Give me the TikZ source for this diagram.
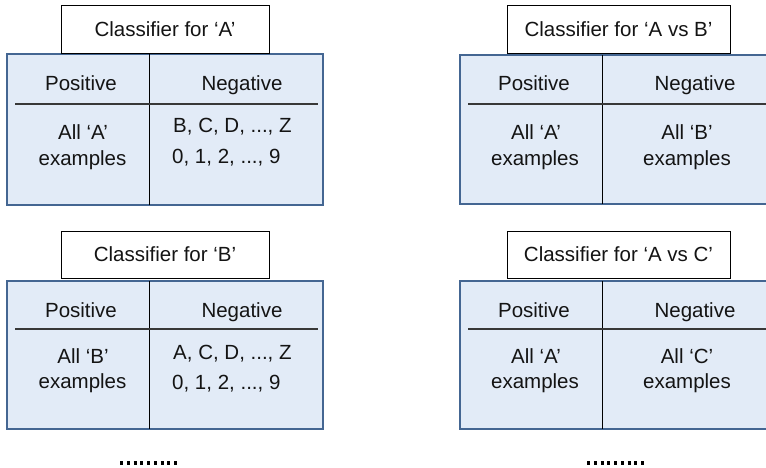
\documentclass[tikz,border=0pt]{standalone}
\usepackage{fontspec}
\setmainfont{Liberation Sans}
\definecolor{panelfill}{RGB}{226,235,247}
\definecolor{panelline}{RGB}{68,102,146}
\begin{document}
\begin{tikzpicture}[x=1pt,y=-1pt,
  every node/.style={font=\fontsize{20.5}{25}\selectfont, text=black!92, inner sep=0pt},
  titlebox/.style={draw=black, line width=0.9pt, fill=white, minimum width=208pt, minimum height=48pt},
  widetitle/.style={titlebox, minimum width=223pt},
  panel/.style={draw=panelline, line width=2pt, fill=panelfill},
  rowrule/.style={draw=black!78, line width=1.3pt},
  colrule/.style={draw=black, line width=1pt},
  txt/.style={anchor=base},
  ltxt/.style={anchor=base west},
  ellipsis/.style={line width=3.5pt, dash pattern=on 3pt off 3.75pt}]
\useasboundingbox (0,0) rectangle (766,468);
\clip (0,0) rectangle (766,468);

% ---- one-vs-rest: classifier for 'A'
\draw[panel] (7,54) rectangle (323,205);
\draw[colrule] (149,54) -- (149,205);
\draw[rowrule] (15,104) -- (318,104);
\node[titlebox] (tA) at (165,29) {Classifier for ‘A’};
\node[txt] (tApos) at (81,91) {Positive};
\node[txt] (tAneg) at (242,91) {Negative};
\node[txt] (tApos1) at (83,140) {All ‘A’};
\node[txt] (tApos2) at (82.5,165) {examples};
\node[ltxt] (tAneg1) at (173,133) {B, C, D, ..., Z};
\node[ltxt] (tAneg2) at (172,164) {0, 1, 2, ..., 9};

% ---- one-vs-rest: classifier for 'B'
\draw[panel] (7,281) rectangle (323,429);
\draw[colrule] (149,281) -- (149,429);
\draw[rowrule] (15,329) -- (318,329);
\node[titlebox, minimum height=47pt] (tB) at (165,254.5) {Classifier for ‘B’};
\node[txt] (tBpos) at (81,317) {Positive};
\node[txt] (tBneg) at (242,317) {Negative};
\node[txt] (tBpos1) at (83,363) {All ‘B’};
\node[txt] (tBpos2) at (82.5,388) {examples};
\node[ltxt] (tBneg1) at (173,359) {A, C, D, ..., Z};
\node[ltxt] (tBneg2) at (172,389) {0, 1, 2, ..., 9};

% ---- one-vs-one: classifier for 'A vs B'
\draw[panel] (460,55) rectangle (776,204);
\draw[colrule] (602,55) -- (602,204);
\draw[rowrule] (468,104) -- (776,104);
\node[widetitle] (tAB) at (618.5,29) {Classifier for ‘A vs B’};
\node[txt] (tABpos) at (534,91) {Positive};
\node[txt] (tABneg) at (695,91) {Negative};
\node[txt] (tABpos1) at (536,140) {All ‘A’};
\node[txt] (tABpos2) at (535,165) {examples};
\node[txt] (tABneg1) at (687,140) {All ‘B’};
\node[txt] (tABneg2) at (687,165) {examples};

% ---- one-vs-one: classifier for 'A vs C'
\draw[panel] (460,281) rectangle (776,429);
\draw[colrule] (602,281) -- (602,429);
\draw[rowrule] (468,329) -- (776,329);
\node[widetitle, minimum height=47pt] (tAC) at (618.5,254.5) {Classifier for ‘A vs C’};
\node[txt] (tACpos) at (534,317) {Positive};
\node[txt] (tACneg) at (695,317) {Negative};
\node[txt] (tACpos1) at (536,363) {All ‘A’};
\node[txt] (tACpos2) at (535,388) {examples};
\node[txt] (tACneg1) at (687,363) {All ‘C’};
\node[txt] (tACneg2) at (687,388) {examples};

% ---- continuation marks
\coordinate (dl1) at (120,463);
\coordinate (dl2) at (177,463);
\coordinate (dr1) at (587,463);
\coordinate (dr2) at (644,463);
\draw[ellipsis] (dl1) -- (dl2);
\draw[ellipsis] (dr1) -- (dr2);
\end{tikzpicture}
\end{document}
